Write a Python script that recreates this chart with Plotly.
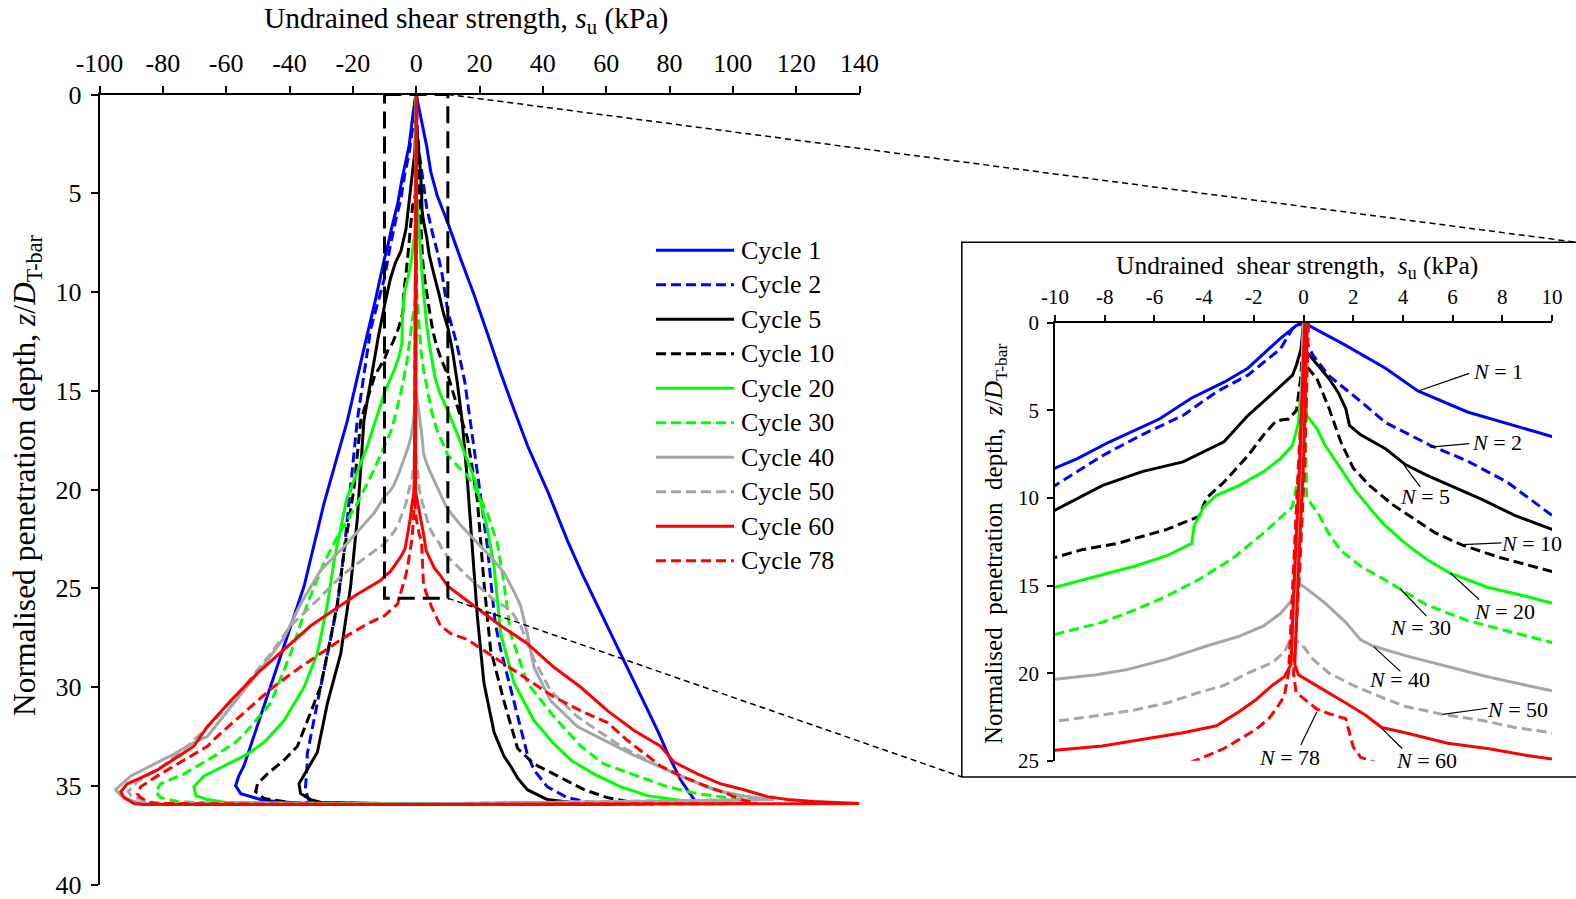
import plotly.graph_objects as go

FONT = "Liberation Serif"

# ---------------- data (su in kPa, z = z/D_T-bar) ----------------
c1_su = [0, 1.7, 3.3, 4.6, 6.6, 8.9, 10, 14, 18.2, 22.5, 26.7, 31, 35.2, 41.8, 47.8, 52.5, 57.3, 61.5, 65.5, 69.5, 73.1, 76.5, 79.5, 83.5, 86, 88.3,
         60, 0, -35, -48,
         -55.4, -57, -56, -54.4, -52.3, -51.2, -45.9, -40.7, -35.4, -29.1, -21.7, -16.4, -13, -10, -9.1, -7.8, -5.8, -4.5, -3.2, -2.24, -0.93, -0.28, 0]
c1_z = [0, 1.3, 2.6, 3.9, 5.1, 6.05, 6.5, 8.3, 10.1, 12.1, 14.1, 16, 17.8, 20.2, 22.6, 24.3, 25.9, 27.3, 28.6, 30, 31.2, 32.3, 33.4, 34.7, 35.3, 35.8,
        35.93, 35.93, 35.9, 35.75,
        35.4, 35.0, 34.5, 34, 33, 32.5, 30, 27.5, 24.9, 20.7, 16.5, 12.8, 10.5, 8.3, 7.76, 6.8, 5.5, 4.3, 3.4, 2.6, 0.9, 0.15, 0]

c2_su = [0, 0.15, 0.38, 1.0, 2.3, 3.3, 5.1, 6.6, 8.2, 10, 12.8, 15.3, 17.5, 20.4, 22.5, 23.8, 25, 26.7, 30.9, 35.1, 37.2, 41.4, 47.7, 55.1,
         0, -30,
         -34, -35, -34.4, -34.4, -31.2, -28, -24.9, -22.8, -20.7, -18.6, -16.5, -14.4, -10, -8.1, -6.5, -4.85, -3.5, -2.24, -0.93, -0.44, 0]
c2_z = [0, 1.2, 1.86, 3.0, 4.5, 5.7, 7.0, 7.9, 9.1, 11.0, 12.6, 14.5, 17.0, 20.5, 22.9, 25.0, 26.8, 28.1, 30.7, 33.4, 34.2, 35.05, 35.6, 35.85,
        35.93, 35.9,
        35.7, 35.2, 33.9, 33.4, 30.8, 28.3, 25.9, 23.2, 19.9, 16.5, 14.2, 11.9, 9.3, 7.6, 6.4, 5.3, 3.95, 3.0, 1.5, 0.34, 0]

c5_su = [0, 0.1, 0.13, 0.6, 1.03, 1.4, 1.7, 1.85, 2.3, 3.3, 4.1, 4.95, 5.9, 7.2, 8.5, 10, 11.5, 13, 14.5, 16.2, 17.7, 19.3, 21.4, 24.6, 27.7, 29.8, 32, 35.1, 41.4, 49.8,
         0, -30,
         -33.3, -36.5, -37, -34.4, -31.2, -28, -23.8, -20.7, -18.6, -16.5, -14.4, -12, -10, -8.1, -6.5, -4.85, -3.2, -2.24, -1.6, -0.93, -0.44, -0.28, -0.1, 0]
c5_z = [0, 1.0, 1.67, 2.5, 3.2, 4.0, 4.9, 5.86, 6.4, 7.2, 8.1, 8.7, 9.3, 10.1, 11.0, 11.8, 13.0, 14.6, 16.5, 19.6, 23.1, 26.4, 29.8, 32.3, 33.5, 34.0, 34.6, 35.2, 35.7, 35.86,
        35.93, 35.85,
        35.7, 35.4, 34.9, 34.2, 33.3, 30.8, 28.3, 24.9, 21.5, 16.5, 14.5, 12.3, 10.7, 9.3, 8.5, 7.95, 6.8, 5.3, 4.5, 3.6, 3.0, 2.4, 1.5, 0]

c10_su = [0, 0.1, 0.13, 0.54, 1.03, 1.5, 2.0, 2.66, 3.6, 4.3, 5.3, 6.4, 7.9, 10, 13, 16.2, 19.3, 21.4, 23.5, 27.7, 32, 37.2, 44.6, 53, 60.4, 66.7, 75.1,
          0, -40,
          -48, -50.7, -50.1, -47, -41.7, -37.5, -34.4, -30.2, -27, -24.9, -22.8, -19.6, -17.5, -13, -10, -8.9, -7.5, -5.5, -4.2, -3.9, -3.2, -2.24, -1.6, -1.1, -0.6, -0.28, -0.1, 0]
c10_z = [0, 1.5, 2.5, 3.2, 4.9, 6.8, 8.3, 9.3, 10.4, 11.05, 12.0, 12.7, 13.4, 14.2, 15.8, 17.4, 20.5, 24.7, 28.1, 30.7, 33.1, 33.9, 34.5, 35.2, 35.6, 35.8, 35.93,
         35.93, 35.85,
         35.65, 35.3, 34.9, 34.4, 33.7, 33.0, 31.7, 30, 27.5, 25.8, 23.2, 19.9, 16.5, 14.2, 13.4, 12.95, 12.6, 11.8, 11.05, 10.0, 9.1, 7.6, 6.4, 5.6, 5.5, 5.0, 3, 0]

c20_su = [0, 0.05, 0.13, 0.54, 0.87, 1.5, 2.1, 2.8, 3.3, 4.1, 4.95, 5.9, 7.4, 8.9, 10, 14, 18.5, 22.5, 24.6, 26.7, 30.9, 37.2, 43, 48.8, 56.1, 64.6, 73, 81.4, 88.8,
          0, -60,
          -65.9, -69.6, -70.2, -67, -60.7, -53.3, -48, -41.7, -35.4, -31.2, -28, -26, -22, -15.4, -10, -8.4, -6.8, -5.5, -4.5, -4.4, -4.0, -3.5, -2.6, -1.6, -0.93, -0.44, -0.2, -0.05, 0]
c20_z = [0, 3, 5.3, 6.05, 7.0, 8.3, 9.6, 10.8, 11.6, 12.6, 13.5, 14.3, 15.1, 15.6, 16.0, 17.6, 19.5, 22.0, 23.9, 27.3, 29.8, 31.7, 32.8, 33.7, 34.4, 35.05, 35.5, 35.7, 35.85,
         35.93, 35.85,
         35.7, 35.5, 35.05, 34.5, 34.0, 33.4, 32.8, 31.7, 30, 28.3, 25.8, 23.7, 20.5, 17.8, 15.1, 14.5, 13.9, 13.3, 12.6, 11.6, 10.5, 9.85, 9.3, 8.5, 7.76, 7.0, 5.7, 3, 0]

c30_su = [0, 0.05, 0.13, 0.6, 1.0, 1.5, 2.3, 3.3, 4.0, 4.95, 6.6, 8.2, 10, 13, 16.2, 19.5, 22.5, 25.6, 27.7, 29.8, 35.1, 43.5, 52, 59.3, 69.8, 79.3, 88.8, 98.3, 104.6,
          0, -70,
          -75.4, -80.7, -82.3, -80.7, -73.3, -63.8, -57.5, -54.4, -45.9, -39.6, -34.4, -29.1, -24.9, -18.6, -13.3, -10, -8.1, -6.8, -5.5, -4.2, -2.9, -1.6, -0.44, -0.1, 0]
c30_z = [0, 5, 10.0, 10.9, 12.0, 13.0, 13.9, 14.7, 15.3, 16.1, 17.0, 17.6, 18.25, 18.8, 19.3, 20.2, 21.2, 22.7, 24.7, 27.3, 29.8, 31.5, 33.0, 33.9, 34.5, 35.05, 35.4, 35.6, 35.8,
         35.93, 35.85,
         35.8, 35.6, 35.3, 34.9, 34.4, 33.5, 32.85, 32.4, 30.8, 28.3, 25.8, 23.7, 22.4, 20.7, 19.0, 17.8, 17.1, 16.4, 15.6, 14.65, 13.5, 12.0, 10.5, 8, 0]

c40_su = [0, -0.1, -0.3, 0.05, 0.87, 1.7, 2.3, 2.8, 4.1, 5.8, 7.4, 9.0, 10, 14, 19.3, 23.5, 27.7, 31, 33, 35.1, 37.2, 42.5, 50.9, 60.4, 68, 75.1, 83.5, 94, 104.6, 113,
          0, -85,
          -89.1, -93.3, -94.9, -90.1, -83.8, -76.5, -71.2, -65.9, -57.5, -49.1, -41.7, -36.5, -30.2, -22.8, -13.3, -10, -8.4, -7.1, -5.5, -3.9, -2.6, -1.6, -0.93, -0.44, -0.3, -0.1, 0]
c40_z = [0, 8, 14.8, 15.1, 16.0, 17.1, 18.1, 18.45, 19.0, 19.6, 20.2, 20.7, 21.0, 21.8, 22.7, 23.4, 24.2, 25.2, 25.9, 27.3, 29.0, 30.7, 32.0, 32.8, 33.4, 33.9, 34.5, 35.2, 35.55, 35.7,
         35.93, 35.9,
         35.8, 35.5, 35.2, 34.5, 34.0, 33.4, 32.9, 32.5, 30.8, 29.1, 27.5, 25.8, 24.1, 22.9, 21.2, 20.35, 20.1, 19.8, 19.2, 18.45, 17.9, 17.3, 16.6, 15.8, 14.8, 8, 0]

c50_su = [0, -0.2, -0.5, -0.1, 0.38, 1.03, 2.0, 3.0, 4.1, 5.6, 7.2, 8.5, 10, 16.2, 24.6, 29.8, 33, 37.2, 42.5, 50.9, 58.3, 64.6, 75.1, 83.5, 92, 98.3, 106.7,
          0, -80,
          -85, -90, -91, -88, -80, -71.2, -63.8, -54.4, -45.9, -39.6, -31.2, -23.8, -16.5, -10, -8.4, -6.8, -5.5, -4.2, -3.2, -2.24, -1.26, -0.77, -0.5, -0.2, 0]
c50_z = [0, 10, 18.0, 18.3, 19.2, 20.0, 20.7, 21.3, 21.9, 22.35, 22.7, 23.1, 23.4, 24.4, 25.6, 26.1, 26.9, 28.6, 30.2, 31.5, 32.3, 33.0, 33.9, 34.5, 35.05, 35.4, 35.7,
         35.93, 35.9,
         35.8, 35.5, 35.3, 34.8, 34.0, 32.85, 31.7, 30.0, 28.3, 26.9, 25.6, 24.4, 23.5, 22.75, 22.45, 22.1, 21.7, 21.1, 20.7, 20.0, 19.4, 18.8, 18.0, 10, 0]

c60_su = [0.15, 0.0, -0.2, -0.35, -0.2, 0.4, 1.03, 1.7, 2.5, 3.15, 4.1, 5.8, 7.4, 9.0, 10, 18.3, 26.7, 35.1, 43.5, 51.9, 60.4, 68.8, 77.2, 81.4, 88.8, 96.1, 103.5, 110.9, 117.2, 125.6, 140,
          0, -86,
          -89.1, -92.3, -93.3, -91.2, -87, -81.7, -75, -70.2, -65.9, -58.6, -50.1, -41.7, -33.3, -26, -18.6, -11.2, -10, -8.1, -6.5, -4.85, -3.5, -2.6, -1.9, -1.26, -0.77, -0.5, -0.35, -0.15, 0.05]
c60_z = [0, 8, 14, 19.5, 20.1, 20.6, 21.1, 21.7, 22.4, 23.1, 23.4, 24.0, 24.3, 24.7, 24.9, 25.9, 26.9, 27.8, 29.0, 30.0, 31.2, 32.2, 33.0, 33.8, 34.4, 34.9, 35.2, 35.55, 35.7, 35.8, 35.9,
         35.95, 35.95,
         35.9, 35.6, 35.3, 34.9, 34.6, 34.2, 33.5, 33.0, 32.0, 30.7, 29.3, 28.1, 26.9, 26.1, 25.3, 24.6, 24.4, 24.15, 23.8, 23.4, 23.0, 22.2, 21.5, 20.7, 20.2, 19.5, 14, 8, 0]

c78_su = [0.2, 0.05, -0.15, -0.4, -0.3, 0.05, 0.54, 1.0, 1.7, 1.85, 2.0, 2.3, 3.3, 5, 7.7, 11, 16.2, 25.6, 35.1, 43.5, 51.9, 60.4, 66.7, 73, 77.2, 83.5, 92, 98.3, 102.5, 107.7,
          0, -82,
          -84, -87, -88.1, -87, -81.7, -73.3, -65.9, -62.8, -54.4, -45.9, -37.5, -30.2, -22.8, -15.4, -10.1, -5.9, -4.2, -3.2, -2.6, -1.9, -1.4, -1.1, -0.77, -0.6, -0.4, -0.2, 0.1]
c78_z = [0, 8, 14, 20, 21.1, 21.5, 22.05, 22.3, 22.6, 23.4, 24.2, 24.8, 25.3, 26, 26.9, 27.3, 27.6, 28.6, 29.6, 30.5, 31.2, 31.8, 32.7, 33.5, 34.0, 34.5, 35.05, 35.4, 35.7, 35.9,
         35.95, 35.9,
         35.85, 35.6, 35.4, 35.05, 34.5, 33.7, 33.0, 32.5, 31.3, 30.1, 29.1, 28.3, 27.5, 26.8, 26.4, 25.8, 24.9, 24.3, 23.8, 23.2, 22.6, 22.05, 21.3, 20, 14, 8, 0]

cycle_names = ["Cycle 1", "Cycle 2", "Cycle 5", "Cycle 10", "Cycle 20",
               "Cycle 30", "Cycle 40", "Cycle 50", "Cycle 60", "Cycle 78"]
n_labels = ["1", "2", "5", "10", "20", "30", "40", "50", "60", "78"]
x_ticks_main = list(range(-100, 141, 20))
y_ticks_main = list(range(0, 41, 5))
x_ticks_inset = list(range(-10, 11, 2))
y_ticks_inset = list(range(0, 26, 5))

series = [(c1_su, c1_z), (c2_su, c2_z), (c5_su, c5_z), (c10_su, c10_z), (c20_su, c20_z),
          (c30_su, c30_z), (c40_su, c40_z), (c50_su, c50_z), (c60_su, c60_z), (c78_su, c78_z)]

# ---------------- styles ----------------
colors = ["#0000FF", "#0000FF", "#000000", "#000000", "#00FF00",
          "#00FF00", "#A6A6A6", "#A6A6A6", "#FF0000", "#FF0000"]
DASH = "10px,5px"
dashes = ["solid", DASH] * 5

W, H = 1576, 899
main_xr = [-100, 140]
main_yr = [40, 0]
ins_xr = [-10, 10]
ins_yr = [25, 0]
main_xd = [99.5 / W, 859.5 / W]
main_yd = [1 - 884.5 / H, 1 - 94.5 / H]
ins_xd = [1055.0 / W, 1552.0 / W]
ins_yd = [1 - 760.8 / H, 1 - 322.6 / H]


def px(v, r, d):
    return d[0] + (v - r[0]) / (r[1] - r[0]) * (d[1] - d[0])


def hyph(vals):
    return [str(v).replace("\u2212", "-") for v in vals]


fig = go.Figure()
for (su, z), col, ds in zip(series, colors, dashes):
    fig.add_trace(go.Scatter(x=su, y=z, mode="lines", xaxis="x", yaxis="y",
                             line=dict(color=col, width=3, dash=ds),
                             showlegend=False, hoverinfo="skip"))
for (su, z), col, ds in zip(series, colors, dashes):
    fig.add_trace(go.Scatter(x=su, y=z, mode="lines", xaxis="x2", yaxis="y2",
                             line=dict(color=col, width=3, dash=ds),
                             showlegend=False, hoverinfo="skip"))

axis_common = dict(showgrid=False, zeroline=False, showline=True, linecolor="black",
                   linewidth=1.5, ticks="outside", tickcolor="black", tickwidth=1.5,
                   tickmode="array", fixedrange=True, automargin=False,
                   ticklabeloverflow="allow")

fig.update_layout(
    template="none",
    width=W, height=H, margin=dict(l=0, r=0, t=0, b=0, pad=0, autoexpand=False),
    paper_bgcolor="white", plot_bgcolor="rgba(0,0,0,0)",
    font=dict(family=FONT, color="black"),
    xaxis=dict(axis_common, domain=main_xd, range=main_xr, side="top", anchor="y",
               tickvals=x_ticks_main, ticktext=hyph(x_ticks_main), ticklen=7,
               ticklabelstandoff=3, tickfont=dict(size=26)),
    yaxis=dict(axis_common, domain=main_yd, range=main_yr, anchor="x",
               tickvals=y_ticks_main, ticktext=hyph(y_ticks_main), ticklen=7,
               ticklabelstandoff=4, tickfont=dict(size=26)),
    xaxis2=dict(axis_common, domain=ins_xd, range=ins_xr, side="top", anchor="y2",
                tickvals=x_ticks_inset, ticktext=hyph(x_ticks_inset), ticklen=6,
                ticklabelstandoff=2, tickfont=dict(size=21)),
    yaxis2=dict(axis_common, domain=ins_yd, range=ins_yr, anchor="x2",
                tickvals=y_ticks_inset, ticktext=hyph(y_ticks_inset), ticklen=6,
                ticklabelstandoff=4, tickfont=dict(size=21)),
)

shapes = []
annos = []

# dashed zoom box on main chart
shapes.append(dict(type="rect", xref="x", yref="y", x0=-10, x1=10, y0=0, y1=25.5,
                   line=dict(color="black", width=3, dash="17px,8px")))
# inset frame
bx0, bx1 = 961.8 / W, 1.003
by0, by1 = 1 - 776.9 / H, 1 - 242.2 / H
shapes.append(dict(type="rect", xref="paper", yref="paper", x0=bx0, x1=bx1, y0=by0, y1=by1,
                   line=dict(color="black", width=1.5)))
# connectors
shapes.append(dict(type="line", xref="paper", yref="paper",
                   x0=px(10, main_xr, main_xd), y0=px(0, main_yr, main_yd), x1=1.0, y1=by1,
                   line=dict(color="black", width=1.5, dash="6px,4px")))
shapes.append(dict(type="line", xref="paper", yref="paper",
                   x0=px(10, main_xr, main_xd), y0=px(25.5, main_yr, main_yd), x1=bx0, y1=by0,
                   line=dict(color="black", width=1.5, dash="6px,4px")))

# legend (manual)
leg_x0, leg_x1, leg_tx = 656 / W, 734 / W, 739 / W
for i, name in enumerate(cycle_names):
    yy = 1 - (250.3 + 34.5 * i) / H
    shapes.append(dict(type="line", xref="paper", yref="paper", x0=leg_x0, x1=leg_x1, y0=yy, y1=yy,
                       line=dict(color=colors[i], width=3, dash=dashes[i])))
    annos.append(dict(xref="paper", yref="paper", x=leg_tx, y=yy, text=name, showarrow=False,
                      xanchor="left", yanchor="middle", font=dict(size=26)))

# N labels in inset (label centre, leader start, leader end)
n_pos = [(7.82, 2.81), (7.78, 6.85), (4.89, 9.92), (9.17, 12.6), (8.1, 16.5),
         (4.71, 17.4), (3.86, 20.35), (8.63, 22.08), (4.95, 25.0), (-0.55, 24.8)]
n_lead = [((6.67, 2.9), (4.62, 3.9)), ((6.67, 6.9), (5.1, 7.1)), ((4.7, 9.37), (4.05, 8.14)),
          ((7.97, 12.57), (6.4, 12.67)), ((7.07, 15.8), (5.9, 14.28)), ((4.95, 16.75), (3.9, 15.2)),
          ((3.9, 19.9), (2.83, 18.5)), ((7.4, 22.0), (5.6, 22.35)), ((3.97, 24.3), (3.15, 23.15)),
          ((-0.11, 24.1), (0.54, 22.2))]
for lab, (lx, ly), ((ax0, ay0), (ax1, ay1)) in zip(n_labels, n_pos, n_lead):
    annos.append(dict(xref="x2", yref="y2", x=lx, y=ly, text="<i>N</i> = " + lab, showarrow=False,
                      xanchor="center", yanchor="middle", font=dict(size=22)))
    shapes.append(dict(type="line", xref="x2", yref="y2", x0=ax0, y0=ay0, x1=ax1, y1=ay1,
                       line=dict(color="black", width=1.2)))

# axis titles
annos.append(dict(xref="paper", yref="paper", x=465.5 / W, y=1 - 20.1 / H,
                  text="Undrained shear strength, <i>s</i><sub>u</sub> (kPa)", showarrow=False,
                  xanchor="center", yanchor="middle", font=dict(size=29.5)))
annos.append(dict(xref="paper", yref="paper", x=27.1 / W, y=1 - 475 / H, textangle=-90,
                  text="Normalised penetration depth, <i>z</i>/<i>D</i><sub>T-bar</sub>", showarrow=False,
                  xanchor="center", yanchor="middle", font=dict(size=31.5)))
annos.append(dict(xref="paper", yref="paper", x=1297 / W, y=1 - 266.8 / H,
                  text="Undrained\u00a0 shear strength,\u00a0 <i>s</i><sub>u</sub> (kPa)", showarrow=False,
                  xanchor="center", yanchor="middle", font=dict(size=25.5)))
annos.append(dict(xref="paper", yref="paper", x=995 / W, y=1 - 544 / H, textangle=-90,
                  text="Normalised\u00a0 penetration\u00a0 depth,\u00a0 <i>z</i>/<i>D</i><sub>T-bar</sub>",
                  showarrow=False, xanchor="center", yanchor="middle", font=dict(size=25)))

fig.update_layout(shapes=shapes, annotations=annos)
fig.write_html("out.html")
